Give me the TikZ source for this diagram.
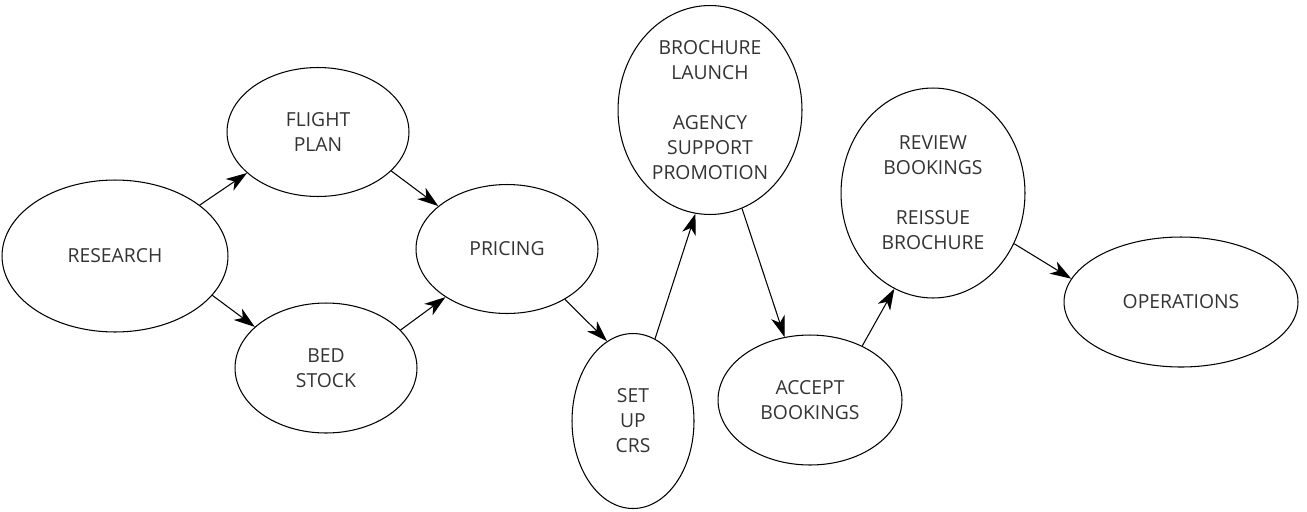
\documentclass[tikz,border=0pt]{standalone}
\usepackage{fontspec}
\setmainfont{Open Sans}
\usetikzlibrary{arrows.meta,shapes.geometric}
\tikzset{
  bub/.style={ellipse, draw=black, line width=0.6pt, inner sep=0pt, align=center,
    text=black!80, font=\fontsize{11}{14.2}\selectfont},
  link/.style={line width=0.6pt, -{Stealth[length=12pt,width=8pt,inset=3.5pt]}}
}
\begin{document}
\begin{tikzpicture}[x=0.02cm,y=-0.02cm]
\useasboundingbox (0,0) rectangle (1307,511);
\node[bub, minimum width=4.52cm, minimum height=3.04cm] (res) at (115,256) {RESEARCH};
\node[bub, minimum width=3.64cm, minimum height=2.58cm] (fli) at (318,132) {FLIGHT\\PLAN};
\node[bub, minimum width=3.64cm, minimum height=2.6cm] (bed) at (326,368) {BED\\STOCK};
\node[bub, minimum width=3.64cm, minimum height=2.58cm] (pri) at (507,249) {PRICING};
\node[bub, minimum width=2.44cm, minimum height=3.5cm] (crs) at (633,421) {SET\\UP\\CRS};
\node[bub, minimum width=3.68cm, minimum height=4.18cm] (bro) at (710,110) {BROCHURE\\LAUNCH\\~\\AGENCY\\SUPPORT\\PROMOTION};
\node[bub, minimum width=3.68cm, minimum height=2.6cm] (acc) at (810,400) {ACCEPT\\BOOKINGS};
\node[bub, minimum width=3.68cm, minimum height=4.2cm] (rev) at (933,193) {REVIEW\\BOOKINGS\\~\\REISSUE\\BROCHURE};
\node[bub, minimum width=4.68cm, minimum height=2.6cm] (ope) at (1181,302) {OPERATIONS};
\draw[link] (res.31.8) -- (fli.210.3);
\draw[link] (fli.-28.1) -- (pri.148.7);
\draw[link] (res.-22.2) -- (bed.150.2);
\draw[link] (bed.27.8) -- (pri.218.7);
\draw[link] (pri.-41.8) -- (crs.108.4);
\draw[link] (crs.75.3) -- (bro.262.3);
\draw[link] (bro.-72.8) -- (acc.112.0);
\draw[link] (acc.46.1) -- (rev.248.2);
\draw[link] (rev.-32.1) -- (ope.168.9);
\end{tikzpicture}
\end{document}
